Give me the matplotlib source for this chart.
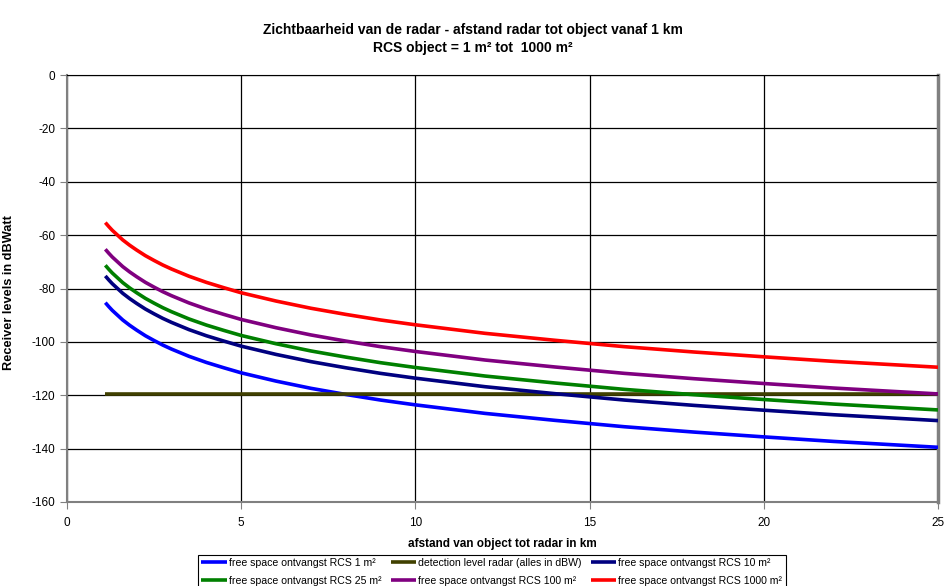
import matplotlib.pyplot as plt

plt.rcParams['font.family'] = ['Liberation Sans', 'DejaVu Sans']
plt.rcParams['axes.unicode_minus'] = False

# ---------- data ----------
afstand_km = [1.1, 1.2, 1.3, 1.4, 1.5, 1.6, 1.8, 2, 2.25, 2.5, 2.75, 3, 3.5, 4, 4.5,
              5, 6, 7, 8, 9, 10, 12, 14, 16, 18, 20, 22, 25]

rcs_1 = [-85.3, -86.8, -88.2, -89.4, -90.6, -91.8, -93.8, -95.6, -97.7, -99.5,
         -101.2, -102.7, -105.4, -107.7, -109.7, -111.6, -114.7, -117.4, -119.7, -121.8,
         -123.6, -126.8, -129.4, -131.8, -133.8, -135.6, -137.3, -139.5]
rcs_10 = [-75.3, -76.8, -78.2, -79.4, -80.6, -81.8, -83.8, -85.6, -87.7, -89.5,
          -91.2, -92.7, -95.4, -97.7, -99.7, -101.6, -104.7, -107.4, -109.7, -111.8,
          -113.6, -116.8, -119.4, -121.8, -123.8, -125.6, -127.3, -129.5]
rcs_25 = [-71.3, -72.8, -74.2, -75.4, -76.6, -77.8, -79.8, -81.6, -83.7, -85.5,
          -87.2, -88.7, -91.4, -93.7, -95.7, -97.6, -100.7, -103.4, -105.7, -107.8,
          -109.6, -112.8, -115.4, -117.8, -119.8, -121.6, -123.3, -125.5]
rcs_100 = [-65.3, -66.8, -68.2, -69.4, -70.6, -71.8, -73.8, -75.6, -77.7, -79.5,
           -81.2, -82.7, -85.4, -87.7, -89.7, -91.6, -94.7, -97.4, -99.7, -101.8,
           -103.6, -106.8, -109.4, -111.8, -113.8, -115.6, -117.3, -119.5]
rcs_1000 = [-55.3, -56.8, -58.2, -59.4, -60.6, -61.8, -63.8, -65.6, -67.7, -69.5,
            -71.2, -72.7, -75.4, -77.7, -79.7, -81.6, -84.7, -87.4, -89.7, -91.8,
            -93.6, -96.8, -99.4, -101.8, -103.8, -105.6, -107.3, -109.5]
detectie = [-119.5] * len(afstand_km)

labels = ['free space ontvangst RCS 1 m²', 'detection level radar (alles in dBW)',
          'free space ontvangst RCS 10 m²', 'free space ontvangst RCS 25 m²',
          'free space ontvangst RCS 100 m²', 'free space ontvangst RCS 1000 m²']

# ---------- plot ----------
fig = plt.figure(figsize=(9.46, 5.86), dpi=100)
ax = fig.add_axes([67 / 946, 1 - 502 / 586, (938 - 67) / 946, (502 - 75) / 586])

series = [
    (rcs_1, '#0000ff', labels[0]),
    (detectie, '#404000', labels[1]),
    (rcs_10, '#000080', labels[2]),
    (rcs_25, '#008000', labels[3]),
    (rcs_100, '#800080', labels[4]),
    (rcs_1000, '#ff0000', labels[5]),
]
lines = {}
for vals, col, lab in series:
    ln, = ax.plot(afstand_km, vals, color=col, lw=2.6, label=lab,
                  solid_capstyle='butt', solid_joinstyle='round', zorder=3)
    lines[lab] = ln

ax.set_xlim(0, 25)
ax.set_ylim(-160, 0)
ax.set_xticks(range(0, 26, 5))
ax.set_yticks(range(-160, 1, 20))
ax.grid(True, color='black', lw=0.9)
ax.set_axisbelow(True)
ax.tick_params(labelsize=8.5, length=5, color='#808080', direction='out')
ax.tick_params(axis='x', pad=6)

for s in ['left', 'bottom']:
    ax.spines[s].set_color('#808080')
    ax.spines[s].set_linewidth(1.5)
ax.spines['right'].set_color('#808080')
ax.spines['right'].set_linewidth(2.5)
ax.spines['top'].set_color('black')

ax.set_xlabel('afstand van object tot radar in km', fontsize=8.5, fontweight='bold', labelpad=6)
ax.set_ylabel('Receiver levels in dBWatt', fontsize=9.2, fontweight='bold')
ax.yaxis.set_label_coords(-52 / 871, 0.49)

fig.text(0.5, 1 - 30 / 586, 'Zichtbaarheid van de radar - afstand radar tot object vanaf 1 km',
         ha='center', va='center', fontsize=10, fontweight='bold')
fig.text(0.5, 1 - 48 / 586, 'RCS object = 1 m² tot  1000 m²',
         ha='center', va='center', fontsize=10, fontweight='bold')

# legend: row-major order in the picture, matplotlib fills by column
order = [labels[0], labels[3], labels[1], labels[4], labels[2], labels[5]]
leg = fig.legend([lines[l] for l in order], order, ncol=3, loc='upper left',
                 bbox_to_anchor=(198 / 946, 1 - 555 / 586), fontsize=7.6,
                 frameon=True, fancybox=False, edgecolor='black', framealpha=1,
                 handlelength=2.4, handletextpad=0.2, columnspacing=0.9,
                 borderpad=0.3, labelspacing=0.7, borderaxespad=0)
leg.get_frame().set_linewidth(0.8)

fig.savefig('out.png', dpi=100)
